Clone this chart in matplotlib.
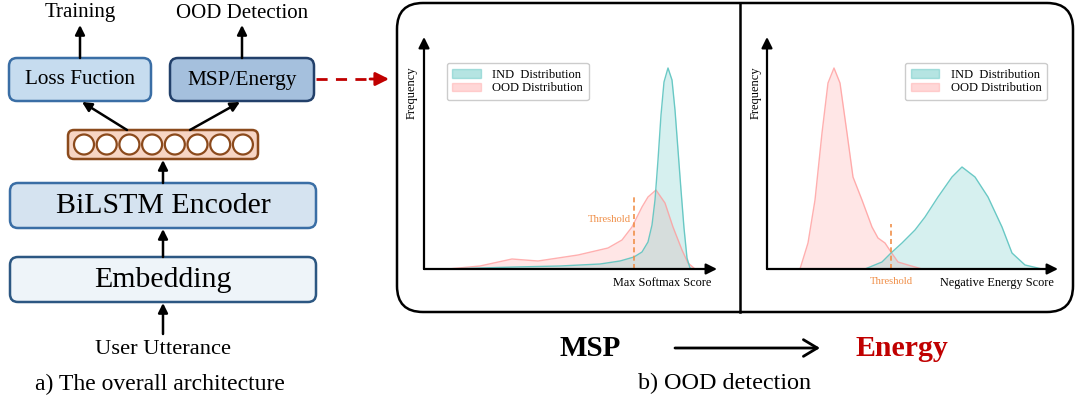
import matplotlib.pyplot as plt
from matplotlib.patches import FancyBboxPatch, Circle, Patch

plt.rcParams['font.family'] = ['Liberation Serif', 'DejaVu Serif']

# MSP panel: score (px from origin) and frequency values
msp_ind_x = [24, 56, 91, 136, 176, 196, 210, 218, 224, 228, 231, 234, 237, 240, 244,
             248, 251, 254, 257, 260, 263, 266, 269]
msp_ind_y = [0, 1, 2, 3, 5, 8, 12, 17, 27, 44, 69, 109, 154, 187, 201,
             189, 159, 119, 79, 41, 11, 1, 0]
msp_ood_x = [24, 56, 88, 114, 154, 184, 198, 208, 218, 224, 232, 241, 249, 258, 264, 271]
msp_ood_y = [0, 3, 10, 8, 14, 21, 29, 42, 62, 72, 79, 66, 42, 19, 6, 0]
msp_threshold = 210
msp_threshold_top = 72

# Energy panel
en_ood_x = [33, 41, 48, 55, 61, 67, 73, 80, 86, 95, 105, 111, 118, 124, 131, 141, 155]
en_ood_y = [0, 26, 69, 136, 186, 201, 186, 136, 92, 69, 42, 31, 26, 17, 7, 4, 0]
en_ind_x = [98, 115, 124, 135, 148, 158, 171, 185, 195, 208, 221, 235, 245, 258, 275]
en_ind_y = [0, 7, 16, 26, 39, 52, 72, 92, 102, 92, 72, 42, 16, 4, 0]
en_threshold = 124
en_threshold_top = 45

IND_C = '#5cc4c0'
OOD_C = '#ff9c9c'
TH_C = '#f0904a'

W, H = 1076, 403
fig = plt.figure(figsize=(W / 100, H / 100), dpi=100)
ax = fig.add_axes([0, 0, 1, 1])
ax.set_xlim(0, W)
ax.set_ylim(H, 0)
ax.axis('off')


def box(x0, y0, x1, y1, fc, ec, r=8, lw=1.8):
    ax.add_patch(FancyBboxPatch((x0, y0), x1 - x0, y1 - y0,
                                boxstyle=f'round,pad=0,rounding_size={r}',
                                fc=fc, ec=ec, lw=lw))


def arrow(x0, y0, x1, y1, lw=1.8, ms=14, color='black'):
    ax.annotate('', xy=(x1, y1), xytext=(x0, y0),
                arrowprops=dict(arrowstyle='-|>', color=color, lw=lw,
                                mutation_scale=ms, shrinkA=0, shrinkB=0))


# ---- a) architecture ----
ax.text(80, 13, 'Training', ha='center', va='center', fontsize=15)
ax.text(242, 13, 'OOD Detection', ha='center', va='center', fontsize=15)
arrow(80, 58, 80, 25)
arrow(242, 58, 242, 25)

box(9, 58, 151, 101, '#c6dcef', '#3a6ea5')
ax.text(80, 80, 'Loss Fuction', ha='center', va='center', fontsize=15.3)
box(170, 58, 314, 101, '#a5c0dd', '#22406a')
ax.text(242, 80, 'MSP/Energy', ha='center', va='center', fontsize=15.3)

arrow(127, 130, 82, 102)
arrow(190, 130, 240, 102)

box(68, 130, 258, 159, '#f7d5c4', '#8b4a1c', r=6)
for i in range(8):
    ax.add_patch(Circle((84 + 22.7 * i, 144.5), 10, fc='white', ec='#8b4a1c', lw=1.6))

arrow(163, 183, 163, 160)
box(10, 183, 316, 228, '#d5e3f0', '#3a6ea5')
ax.text(163, 206, 'BiLSTM Encoder', ha='center', va='center', fontsize=21.5)
arrow(163, 257, 163, 229)
box(10, 257, 316, 302, '#eef4f9', '#2c5782')
ax.text(163, 280, 'Embedding', ha='center', va='center', fontsize=21.5)
arrow(163, 334, 163, 303)
ax.text(163, 349, 'User Utterance', ha='center', va='center', fontsize=16.2)
ax.text(160, 384, 'a) The overall architecture', ha='center', va='center', fontsize=17)

# red dashed connector
ax.plot([316, 374], [79, 79], color='#c00000', lw=2, ls=(0, (4, 3)))
arrow(370, 79, 389, 79, lw=2, ms=20, color='#c00000')

# ---- b) OOD detection frame ----
ax.add_patch(FancyBboxPatch((397, 3), 676, 309, boxstyle='round,pad=0,rounding_size=26',
                            fc='none', ec='black', lw=1.8))
ax.plot([740, 740], [3, 312], color='black', lw=1.8)


def panel(left, right, ind_x, ind_y, ood_x, ood_y, th, th_top, xlabel, leg_loc, leg_anchor,
          th_label_side):
    a = fig.add_axes([left / W, 1 - 269 / H, (right - left) / W, 232 / H])
    a.set_xlim(0, right - left)
    a.set_ylim(0, 232)
    a.axis('off')
    a.fill_between(ood_x, ood_y, color=OOD_C, alpha=0.25, lw=0)
    a.plot(ood_x, ood_y, color=OOD_C, lw=1.0, alpha=0.8)
    a.fill_between(ind_x, ind_y, color=IND_C, alpha=0.25, lw=0)
    a.plot(ind_x, ind_y, color=IND_C, lw=1.0, alpha=0.9)
    a.plot([th, th], [0, th_top], color=TH_C, lw=1.2, ls=(0, (3, 2)))
    a.annotate('', xy=(1, 0), xytext=(0, 0), xycoords='axes fraction',
               arrowprops=dict(arrowstyle='-|>', color='black', lw=1.6,
                               mutation_scale=16, shrinkA=0, shrinkB=0))
    a.annotate('', xy=(0, 1), xytext=(0, 0), xycoords='axes fraction',
               arrowprops=dict(arrowstyle='-|>', color='black', lw=1.6,
                               mutation_scale=16, shrinkA=0, shrinkB=0))
    handles = [Patch(fc=IND_C, ec=IND_C, alpha=0.45, label='IND  Distribution'),
               Patch(fc=OOD_C, ec=OOD_C, alpha=0.4, label='OOD Distribution')]
    a.legend(handles=handles, loc=leg_loc, bbox_to_anchor=leg_anchor, fontsize=9,
             handlelength=2.3, handleheight=0.7, handletextpad=0.9, labelspacing=0.15,
             borderpad=0.45, frameon=True, edgecolor='#cccccc', fancybox=True,
             framealpha=1, borderaxespad=0)
    if th_label_side == 'left':
        a.text(th - 3, 49, 'Threshold', ha='right', va='center', fontsize=7.7, color=TH_C)
    else:
        a.text(th, -12, 'Threshold', ha='center', va='center', fontsize=7.7, color=TH_C)
    return a


panel(424, 717, msp_ind_x, msp_ind_y, msp_ood_x, msp_ood_y, msp_threshold,
      msp_threshold_top, 'Max Softmax Score', 'upper left', (0.078, 0.888), 'left')
panel(767, 1058, en_ind_x, en_ind_y, en_ood_x, en_ood_y, en_threshold,
      en_threshold_top, 'Negative Energy Score', 'upper right', (0.962, 0.888), 'below')

ax.text(412, 93, 'Frequency', rotation=90, ha='center', va='center', fontsize=9)
ax.text(756, 93, 'Frequency', rotation=90, ha='center', va='center', fontsize=9)
ax.text(662, 283, 'Max Softmax Score', ha='center', va='center', fontsize=8.8)
ax.text(997, 283, 'Negative Energy Score', ha='center', va='center', fontsize=8.8)

ax.text(590, 349, 'MSP', ha='center', va='center', fontsize=21, fontweight='bold')
ax.annotate('', xy=(820, 348), xytext=(675, 348),
            arrowprops=dict(arrowstyle='->,head_length=0.5,head_width=0.3', color='black',
                            lw=2, mutation_scale=20, shrinkA=0, shrinkB=0))
ax.text(902, 349, 'Energy', ha='center', va='center', fontsize=21.5, fontweight='bold',
        color='#c00000')
ax.text(725, 383, 'b) OOD detection', ha='center', va='center', fontsize=17.4)

fig.savefig('out.png', dpi=100)
